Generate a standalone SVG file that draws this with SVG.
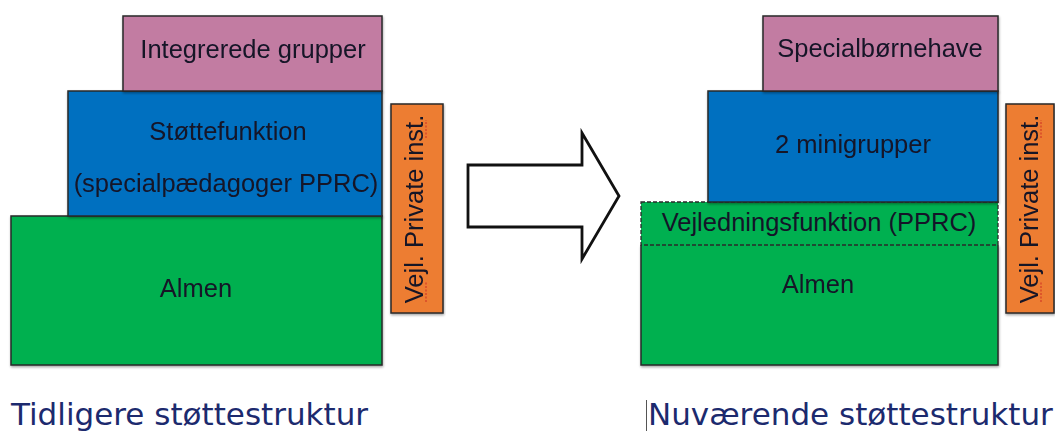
<svg xmlns="http://www.w3.org/2000/svg" width="1055" height="435" viewBox="0 0 1055 435">
<defs>
  <filter id="sh" x="-5%" y="-5%" width="110%" height="115%">
    <feDropShadow dx="0.5" dy="1.5" stdDeviation="1" flood-color="#000" flood-opacity="0.35"/>
  </filter>
</defs>
<style>
  .box { stroke: #2a2a2a; stroke-width: 1.5; }
  .pink { fill: #C27CA2; }
  .blue { fill: #0070C0; }
  .green { fill: #00B050; }
  .orange { fill: #ED7D31; }
  .lbl { font-family: "Liberation Sans", Arial, sans-serif; font-size: 25.5px; fill: #141428; text-anchor: middle; }
  .title { font-family: "DejaVu Sans", Verdana, sans-serif; font-size: 31px; fill: #1c2a6e; }
  .spell { stroke: #d23a2a; stroke-width: 1.2; stroke-dasharray: 2 1.5; fill: none; }
</style>
<rect width="1055" height="435" fill="#ffffff"/>

<!-- LEFT: Tidligere -->
<g id="left-almen" filter="url(#sh)">
  <rect class="box green" x="11" y="216" width="371" height="149"/>
  <text class="lbl" x="196" y="297">Almen</text>
</g>
<g id="left-stoette" filter="url(#sh)">
  <rect class="box blue" x="68" y="91" width="314" height="125"/>
  <text class="lbl" x="228" y="140">Støttefunktion</text>
  <text class="lbl" x="226" y="192">(specialpædagoger PPRC)</text>
</g>
<g id="left-integrerede" filter="url(#sh)">
  <rect class="box pink" x="123" y="16" width="259" height="75"/>
  <text class="lbl" x="253" y="58">Integrerede grupper</text>
</g>
<g id="left-vejl" filter="url(#sh)">
  <rect class="box orange" x="391" y="104" width="52" height="209"/>
  <text class="lbl" transform="translate(423,209) rotate(-90)">Vejl. Private inst.</text>
  <path class="spell" d="M426,302 L426,282"/>
  <path class="spell" d="M426,138 L426,120"/>
</g>
<g id="left-title">
  <text class="title" x="11" y="425">Tidligere støttestruktur</text>
</g>

<!-- Connector: block arrow -->
<g id="connectors">
  <polygon points="468,165 582,165 582,133 619,196 582,259 582,227 468,227" fill="#ffffff" stroke="#111111" stroke-width="2.8" stroke-linejoin="miter"/>
</g>

<!-- RIGHT: Nuværende -->
<g id="right-almen" filter="url(#sh)">
  <rect class="green" x="641" y="245" width="357" height="120"/>
  <path d="M641,245 L641,365 L998,365 L998,245" fill="none" stroke="#2a2a2a" stroke-width="1.5"/>
  <text class="lbl" x="818" y="293">Almen</text>
</g>
<g id="right-vejledning">
  <rect class="green" x="641" y="202" width="357" height="43" stroke="#2a2a2a" stroke-width="1.3" stroke-dasharray="4 2"/>
  <text class="lbl" x="819" y="231">Vejledningsfunktion (PPRC)</text>
</g>
<g id="right-minigrupper" filter="url(#sh)">
  <rect class="box blue" x="708" y="91" width="290" height="111"/>
  <text class="lbl" x="853" y="153">2 minigrupper</text>
</g>
<g id="right-special" filter="url(#sh)">
  <rect class="box pink" x="763" y="16" width="235" height="75"/>
  <text class="lbl" x="880" y="57">Specialbørnehave</text>
</g>
<g id="right-vejl" filter="url(#sh)">
  <rect class="box orange" x="1006" y="104" width="48" height="209"/>
  <text class="lbl" transform="translate(1038,209) rotate(-90)">Vejl. Private inst.</text>
  <path class="spell" d="M1041,302 L1041,282"/>
  <path class="spell" d="M1041,138 L1041,120"/>
</g>
<g id="right-title">
  <line x1="646.5" y1="400" x2="646.5" y2="431" stroke="#555" stroke-width="1"/>
  <text class="title" x="648" y="425">Nuværende støttestruktur</text>
</g>
</svg>
